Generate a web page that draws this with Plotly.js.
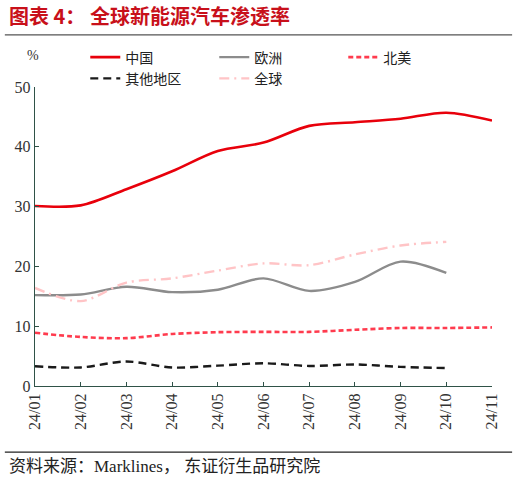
<!DOCTYPE html>
<html><head><meta charset="utf-8">
<script src="https://cdn.plot.ly/plotly-3.0.1.min.js"></script>
<style>body{margin:0;background:#fff}#c{width:517px;height:480px}</style>
</head><body><div id="c"></div>
<script>
const months = ["24/01","24/02","24/03","24/04","24/05","24/06","24/07","24/08","24/09","24/10","24/11"];
const china = [30.1, 30.2, 32.9, 35.9, 39.3, 40.7, 43.5, 44.1, 44.7, 45.7, 44.4];
const europe = [15.2, 15.3, 16.6, 15.7, 16.1, 18.0, 15.9, 17.4, 20.8, 18.9];
const northAmerica = [8.9, 8.2, 8.0, 8.7, 9.0, 9.05, 9.05, 9.4, 9.7, 9.7, 9.8];
const others = [3.3, 3.1, 4.1, 3.1, 3.4, 3.8, 3.35, 3.6, 3.2, 3.0];
const world = [16.4, 14.2, 17.3, 18.0, 19.3, 20.5, 20.2, 22.0, 23.5, 24.1];
const yTicks = [0, 10, 20, 30, 40, 50];

const idx = months.map((m, i) => i);
const serif = "Liberation Serif, Times New Roman, serif";
const cjk = "Noto Sans CJK SC, sans-serif";

function tr(name, vals, color, dash, width) {
  return {x: idx.slice(0, vals.length), y: vals, name: name, type: "scatter", mode: "lines",
    line: {color: color, dash: dash, width: width, shape: "spline", smoothing: 0.9}};
}
const data = [
  tr("中国", china, "#E8000B", "solid", 2.6),
  tr("欧洲", europe, "#8C8C8C", "solid", 2.4),
  tr("北美", northAmerica, "#FF3B4E", "5px,3px", 2.6),
  tr("其他地区", others, "#1A1A1A", "8px,5px", 2.4),
  tr("全球", world, "#FFC4C6", "10px,5px,2px,5px", 2.4)
];
const axisColor = "#2F5248";
const layout = {
  width: 517, height: 480,
  margin: {l: 35, r: 25, t: 87, b: 94},
  paper_bgcolor: "#fff", plot_bgcolor: "#fff",
  showlegend: true,
  legend: {orientation: "h", x: 0.11, y: 1.152, xanchor: "left", yanchor: "top",
    entrywidth: 84, entrywidthmode: "pixels", tracegroupgap: 0,
    font: {family: cjk, size: 14, color: "#222"}, itemwidth: 30},
  xaxis: {range: [0, 10], tickmode: "array", tickvals: idx, ticktext: months,
    tickangle: -90, showgrid: false, zeroline: false, showline: true, linecolor: axisColor,
    linewidth: 1.2, ticks: "inside", ticklen: 4, tickcolor: axisColor,
    tickfont: {family: serif, size: 16, color: "#333"}},
  yaxis: {range: [0, 50], tickmode: "array", tickvals: yTicks, showgrid: false, zeroline: false,
    showline: true, linecolor: axisColor, linewidth: 1.2, ticks: "inside", ticklen: 4,
    tickcolor: axisColor, tickfont: {family: serif, size: 16, color: "#333"}},
  annotations: [
    {text: "<b>图表 4： 全球新能源汽车渗透率</b>", xref: "paper", yref: "paper", x: -0.062, y: 1.24,
     xanchor: "left", yanchor: "middle", showarrow: false,
     font: {family: cjk, size: 20, color: "#C8101A"}},
    {text: "%", xref: "paper", yref: "paper", x: -0.005, y: 1.105, xanchor: "center", yanchor: "middle",
     showarrow: false, font: {family: serif, size: 14, color: "#333"}},
    {text: "资料来源：Marklines， 东证衍生品研究院", xref: "paper", yref: "paper", x: -0.062, y: -0.268,
     xanchor: "left", yanchor: "middle", showarrow: false,
     font: {family: "Liberation Serif, Noto Sans CJK SC, serif", size: 17, color: "#222"}}
  ],
  shapes: [
    {type: "line", xref: "paper", yref: "paper", x0: -0.066, x1: 1.044, y0: 1.174, y1: 1.174,
     line: {color: "#555", width: 1.2}},
    {type: "line", xref: "paper", yref: "paper", x0: -0.066, x1: 1.044, y0: -0.221, y1: -0.221,
     line: {color: "#222", width: 1.2}}
  ]
};
Plotly.newPlot("c", data, layout, {displayModeBar: false, staticPlot: true});
</script></body></html>
